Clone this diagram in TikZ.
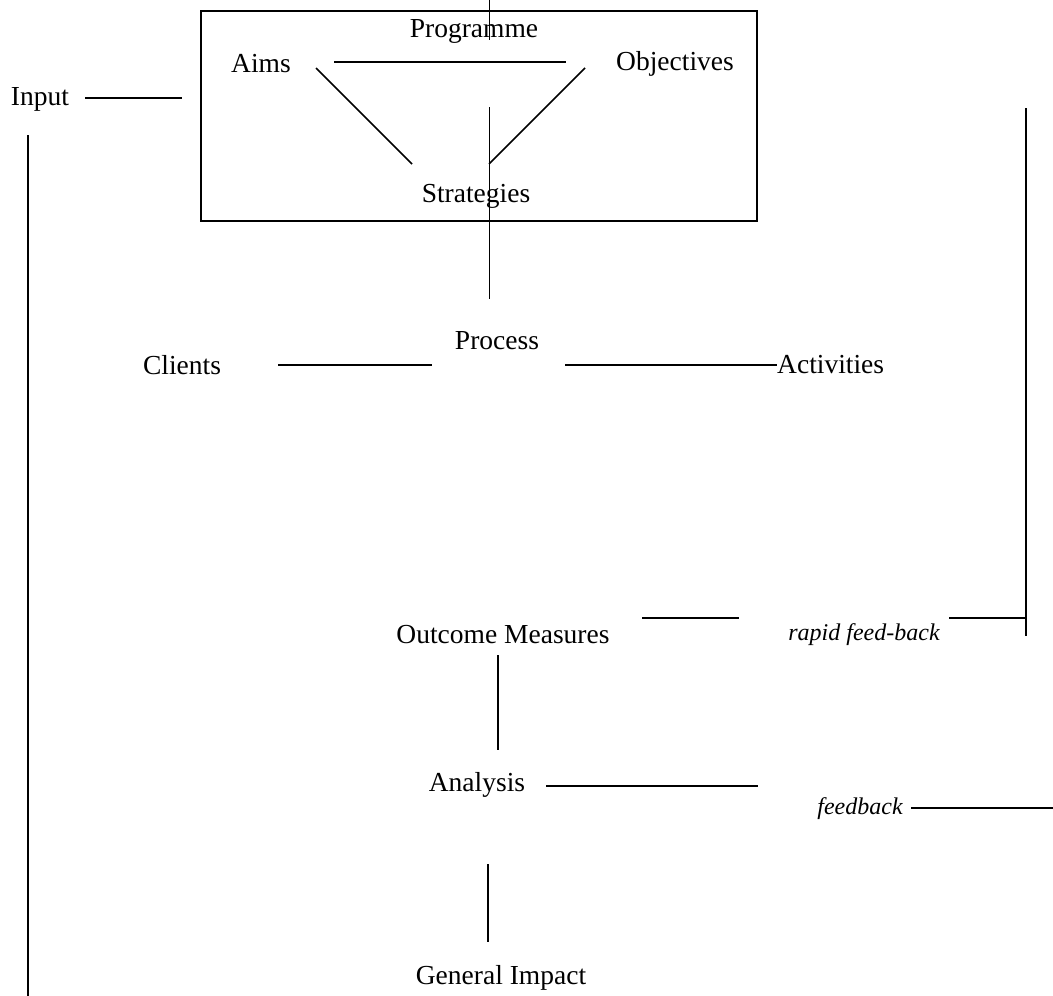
\documentclass[tikz,border=0pt]{standalone}
\usepackage{fontspec}
\setmainfont{Liberation Serif}
\begin{document}
\begin{tikzpicture}[x=1pt,y=-1pt,
  lbl/.style={font=\fontsize{27.5}{32}\selectfont, inner sep=0pt, anchor=center},
  itl/.style={lbl, font=\fontsize{24}{28}\selectfont\itshape},
  ln/.style={line width=1.6pt},
  thin ln/.style={line width=1pt},
  boxst/.style={line width=1.8pt}]
\useasboundingbox (0,0) rectangle (1053,996);
% box
\draw[boxst] (201,11) rectangle (757,221);
% labels
\node[lbl] (prog) at (474,31) {Programme};
\node[lbl] (aims) at (261,64) {Aims};
\node[lbl] (obj) at (675,64) {Objectives};
\node[lbl] (strat) at (476,196) {Strategies};
\node[lbl] (input) at (40,99) {Input};
\node[lbl] (proc) at (497,341) {Process};
\node[lbl] (cli) at (182,365) {Clients};
\node[lbl,anchor=west] (act) at (777,365) {Activities};
\node[lbl] (om) at (503,635) {Outcome Measures};
\node[itl] (rfb) at (864,635) {rapid feed-back};
\node[lbl] (ana) at (477,785) {Analysis};
\node[itl] (fb) at (860,809) {feedback};
\node[lbl] (gi) at (501,978) {General Impact};
% coordinates
\coordinate (t1) at (489,0);   \coordinate (t2) at (489,40);
\coordinate (ao1) at (334,62); \coordinate (ao2) at (566,62);
\coordinate (as1) at (316,68); \coordinate (as2) at (412,164);
\coordinate (os1) at (585,68); \coordinate (os2) at (489,164);
\coordinate (sv1) at (489,107); \coordinate (sv2) at (489,299);
\coordinate (in1) at (85,98); \coordinate (in2) at (182,98);
\coordinate (lv1) at (28,135); \coordinate (lv2) at (28,996);
\coordinate (rv1) at (1026,108); \coordinate (rv2) at (1026,636);
\coordinate (cp1) at (278,365); \coordinate (cp2) at (432,365);
\coordinate (pa1) at (565,365); \coordinate (pa2) at (777,365);
\coordinate (om1) at (642,618); \coordinate (om2) at (739,618);
\coordinate (rf1) at (949,618); \coordinate (rf2) at (1026,618);
\coordinate (oa1) at (498,655); \coordinate (oa2) at (498,750);
\coordinate (an1) at (546,786); \coordinate (an2) at (758,786);
\coordinate (fb1) at (911,808); \coordinate (fb2) at (1053,808);
\coordinate (ag1) at (488,864); \coordinate (ag2) at (488,942);
% connectors
\draw[thin ln] (t1) -- (t2);
\draw[ln] (ao1) -- (ao2);
\draw[ln] (as1) -- (as2);
\draw[ln] (os1) -- (os2);
\draw[thin ln] (sv1) -- (sv2);
\draw[ln] (in1) -- (in2);
\draw[ln] (lv1) -- (lv2);
\draw[ln] (rv1) -- (rv2);
\draw[ln] (cp1) -- (cp2);
\draw[ln] (pa1) -- (pa2);
\draw[ln] (om1) -- (om2);
\draw[ln] (rf1) -- (rf2);
\draw[ln] (oa1) -- (oa2);
\draw[ln] (an1) -- (an2);
\draw[ln] (fb1) -- (fb2);
\draw[ln] (ag1) -- (ag2);
\end{tikzpicture}
\end{document}
